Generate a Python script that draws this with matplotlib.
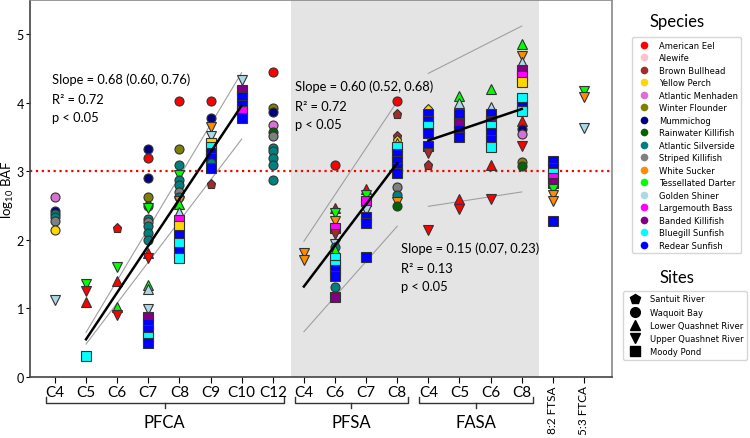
import matplotlib.pyplot as plt
from matplotlib.lines import Line2D

plt.rcParams['font.family'] = ['Lato', 'DejaVu Sans']
plt.rcParams['mathtext.fontset'] = 'custom'
plt.rcParams['mathtext.rm'] = 'Lato'
plt.rcParams['mathtext.it'] = 'Lato:italic'

# species code -> (legend name, colour)
species = {
    'EEL': ('American Eel', 'red'),
    'ALE': ('Alewife', 'pink'),
    'BB': ('Brown Bullhead', 'brown'),
    'YP': ('Yellow Perch', 'gold'),
    'AM': ('Atlantic Menhaden', 'orchid'),
    'WF': ('Winter Flounder', 'olive'),
    'MUM': ('Mummichog', 'navy'),
    'RK': ('Rainwater Killifish', 'darkgreen'),
    'AS': ('Atlantic Silverside', 'teal'),
    'SK': ('Striped Killifish', 'gray'),
    'WS': ('White Sucker', 'darkorange'),
    'TD': ('Tessellated Darter', 'lime'),
    'GS': ('Golden Shiner', 'lightblue'),
    'LB': ('Largemouth Bass', 'magenta'),
    'BK': ('Banded Killifish', 'purple'),
    'BG': ('Bluegill Sunfish', 'cyan'),
    'RS': ('Redear Sunfish', 'blue'),
}

# site code -> (legend name, marker)
sites = {
    'S': ('Santuit River', 'p'),
    'W': ('Waquoit Bay', 'o'),
    'L': ('Lower Quashnet River', '^'),
    'U': ('Upper Quashnet River', 'v'),
    'M': ('Moody Pond', 's'),
}

tick_labels = ['C4', 'C5', 'C6', 'C7', 'C8', 'C9', 'C10', 'C12',
               'C4', 'C6', 'C7', 'C8',
               'C4', 'C5', 'C6', 'C8',
               '8:2 FTSA', '5:3 FTCA']

# (species, site, log10 BAF) for each compound column
pfca_c4 = [('AM', 'W', 2.62), ('MUM', 'W', 2.42), ('AS', 'W', 2.38), ('AS', 'W', 2.33),
           ('SK', 'W', 2.27), ('YP', 'W', 2.15), ('GS', 'U', 1.13)]
pfca_c5 = [('TD', 'U', 1.35), ('EEL', 'U', 1.26), ('EEL', 'L', 1.10), ('BG', 'M', 0.31)]
pfca_c6 = [('EEL', 'S', 2.17), ('TD', 'U', 1.61), ('EEL', 'L', 1.40), ('TD', 'L', 1.02),
           ('EEL', 'U', 0.91)]
pfca_c7 = [('MUM', 'W', 3.32), ('EEL', 'W', 3.20), ('MUM', 'W', 2.91), ('WF', 'W', 2.62),
           ('AS', 'W', 2.50), ('TD', 'U', 2.47), ('AS', 'W', 2.30), ('SK', 'W', 2.26),
           ('AS', 'W', 2.20), ('AS', 'W', 2.10), ('AS', 'W', 2.00), ('EEL', 'L', 1.81),
           ('EEL', 'U', 1.74), ('TD', 'L', 1.34), ('GS', 'L', 1.28), ('GS', 'U', 0.99),
           ('BK', 'M', 0.87), ('RS', 'M', 0.77), ('RS', 'M', 0.68), ('BG', 'M', 0.59),
           ('RS', 'M', 0.50)]
pfca_c8 = [('EEL', 'W', 4.03), ('WF', 'W', 3.33), ('AS', 'W', 3.10), ('TD', 'U', 2.94),
           ('AS', 'W', 2.87), ('AS', 'W', 2.80), ('SK', 'W', 2.70), ('AS', 'W', 2.63),
           ('WS', 'U', 2.57), ('TD', 'L', 2.52), ('GS', 'L', 2.40), ('LB', 'M', 2.29),
           ('YP', 'M', 2.20), ('RS', 'M', 2.07), ('BG', 'M', 1.95), ('RS', 'M', 1.83),
           ('BG', 'M', 1.73)]
pfca_c9 = [('EEL', 'W', 4.02), ('MUM', 'W', 3.78), ('WS', 'U', 3.64), ('GS', 'U', 3.52),
           ('YP', 'M', 3.42), ('BG', 'M', 3.35), ('RS', 'M', 3.27), ('RS', 'M', 3.20),
           ('AS', 'W', 3.12), ('RS', 'M', 3.05), ('BB', 'S', 2.81)]
pfca_c10 = [('GS', 'U', 4.34), ('BK', 'M', 4.19), ('RS', 'M', 4.09), ('RS', 'M', 3.97),
            ('LB', 'M', 3.88), ('RS', 'M', 3.78)]
pfca_c12 = [('EEL', 'W', 4.45), ('WF', 'W', 3.93), ('MUM', 'W', 3.86), ('AM', 'W', 3.68),
            ('RK', 'W', 3.58), ('SK', 'W', 3.51), ('AS', 'W', 3.34), ('AS', 'W', 3.29),
            ('AS', 'W', 3.20), ('AS', 'W', 3.10), ('AS', 'W', 2.88)]
pfsa_c4 = [('WS', 'U', 1.81), ('WS', 'U', 1.70)]
pfsa_c6 = [('EEL', 'W', 3.10), ('EEL', 'L', 2.47), ('TD', 'U', 2.39), ('WS', 'U', 2.28),
           ('LB', 'M', 2.18), ('BB', 'U', 2.08), ('GS', 'U', 1.94), ('AS', 'W', 1.90),
           ('TD', 'L', 1.86), ('BG', 'M', 1.74), ('BG', 'M', 1.64), ('RS', 'M', 1.56),
           ('RS', 'M', 1.47), ('AS', 'W', 1.31), ('BK', 'M', 1.16)]
pfsa_c7 = [('EEL', 'L', 2.75), ('TD', 'U', 2.66), ('LB', 'M', 2.57), ('GS', 'U', 2.44),
           ('RS', 'M', 2.34), ('RS', 'M', 2.25), ('RS', 'M', 1.75)]
pfsa_c8 = [('EEL', 'W', 4.03), ('BB', 'S', 3.84), ('BB', 'S', 3.52), ('YP', 'S', 3.46),
           ('GS', 'L', 3.42), ('BG', 'M', 3.35), ('RS', 'M', 3.26), ('RS', 'M', 3.15),
           ('RS', 'M', 3.05), ('RS', 'M', 2.97), ('SK', 'W', 2.77), ('AS', 'W', 2.66),
           ('WS', 'U', 2.55), ('RK', 'W', 2.49)]
fasa_c4 = [('YP', 'S', 3.91), ('RS', 'M', 3.83), ('RS', 'M', 3.73), ('BG', 'M', 3.66),
           ('RS', 'M', 3.56), ('RS', 'M', 3.37), ('BB', 'U', 3.27), ('BB', 'S', 3.09),
           ('EEL', 'U', 2.15)]
fasa_c5 = [('TD', 'L', 4.10), ('GS', 'L', 4.00), ('RS', 'M', 3.83), ('BK', 'M', 3.71),
           ('RS', 'M', 3.61), ('RS', 'M', 3.50), ('EEL', 'L', 2.59), ('EEL', 'U', 2.45)]
fasa_c6 = [('TD', 'L', 4.20), ('GS', 'L', 3.94), ('RS', 'M', 3.83), ('BK', 'M', 3.74),
           ('BG', 'M', 3.66), ('RS', 'M', 3.56), ('RS', 'M', 3.46), ('BG', 'M', 3.36),
           ('EEL', 'L', 3.09), ('EEL', 'U', 2.59)]
fasa_c8 = [('TD', 'L', 4.86), ('WS', 'U', 4.68), ('GS', 'L', 4.59), ('BK', 'M', 4.48),
           ('LB', 'M', 4.39), ('YP', 'M', 4.31), ('BG', 'M', 4.07), ('RS', 'M', 3.94),
           ('BG', 'M', 3.88), ('EEL', 'L', 3.73), ('MUM', 'W', 3.62), ('AM', 'W', 3.54),
           ('EEL', 'U', 3.37), ('WF', 'W', 3.13), ('RK', 'W', 3.08)]
ftsa_82 = [('RS', 'M', 3.15), ('RS', 'M', 3.05), ('BG', 'M', 2.98), ('LB', 'M', 2.90),
           ('BK', 'M', 2.83), ('TD', 'U', 2.74), ('WS', 'U', 2.65), ('WS', 'U', 2.57),
           ('RS', 'M', 2.28)]
ftca_53 = [('TD', 'U', 4.17), ('WS', 'U', 4.09), ('GS', 'U', 3.63)]

columns = [pfca_c4, pfca_c5, pfca_c6, pfca_c7, pfca_c8, pfca_c9, pfca_c10, pfca_c12,
           pfsa_c4, pfsa_c6, pfsa_c7, pfsa_c8,
           fasa_c4, fasa_c5, fasa_c6, fasa_c8,
           ftsa_82, ftca_53]

# regression lines: (x start col, x end col, fit start, fit end, upper start, upper end, lower start, lower end)
fits = [
    (1, 6, 0.55, 3.96, 0.65, 4.44, 0.48, 3.47),
    (8, 11, 1.32, 3.12, 1.98, 4.02, 0.66, 2.20),
    (12, 15, 3.45, 3.91, 4.43, 5.12, 2.49, 2.70),
]
fit_text = [
    ('Slope = 0.68 (0.60, 0.76)', '0.72', -0.10, 4.35),
    ('Slope = 0.60 (0.52, 0.68)', '0.72', 7.72, 4.25),
    ('Slope = 0.15 (0.07, 0.23)', '0.13', 11.13, 1.89),
]
groups = [('PFCA', 0, 7), ('PFSA', 8, 11), ('FASA', 12, 15)]

fig = plt.figure(figsize=(7.5, 4.39), dpi=100)
ax = fig.add_axes([30 / 750, 61 / 439, 582 / 750, 377 / 439])

ax.axvspan(7.6, 15.55, color='#e4e4e4', zorder=0, lw=0)
ax.axhline(3, color='red', ls=':', lw=1.6, zorder=1)

for x, col in enumerate(columns):
    for sp, site, val in col:
        ax.plot(x, val, marker=sites[site][1], color=species[sp][1], ms=6.5,
                mec='#333333', mew=0.8, ls='', zorder=3)

for x0, x1, f0, f1, u0, u1, l0, l1 in fits:
    ax.plot([x0, x1], [f0, f1], color='black', lw=1.8, zorder=4)
    ax.plot([x0, x1], [u0, u1], color='#a0a0a0', lw=0.8, zorder=2)
    ax.plot([x0, x1], [l0, l1], color='#a0a0a0', lw=0.8, zorder=2)

for slope, r2, tx, ty in fit_text:
    ax.text(tx, ty, slope, fontsize=9.3, va='center', zorder=5)
    ax.text(tx, ty - 0.30, 'R² = ' + r2, fontsize=9.3, va='center', zorder=5)
    ax.text(tx, ty - 0.56, 'p < 0.05', fontsize=9.3, va='center', zorder=5)

ax.set_xlim(-0.8, 17.9)
ax.set_ylim(0, 5.5)
ax.set_yticks(range(6))
ax.tick_params(axis='y', labelsize=9, length=3, pad=1.5)
ax.set_xticks(range(len(tick_labels)))
ax.set_xticklabels(tick_labels)
ax.tick_params(axis='x', labelsize=11, length=4, pad=2)
for lbl in ax.get_xticklabels()[-2:]:
    lbl.set_rotation(90)
    lbl.set_fontsize(8.5)
ax.set_ylabel('log$_{10}$ BAF', fontsize=9.5)
ax.yaxis.set_label_coords(-0.0237, 0.5)
for side in ['left', 'bottom']:
    ax.spines[side].set_color('#444444')
for side in ['top', 'right']:
    ax.spines[side].set_color('#888888')
for s in ax.spines.values():
    s.set_linewidth(1.2)

# group brackets under the tick labels
trans = ax.get_xaxis_transform()
for name, first, last in groups:
    a, b = first - 0.3, last + 0.35
    mid = (a + b) / 2
    ax.plot([a, a, b, b], [-0.053, -0.069, -0.069, -0.053], color='#333333', lw=1,
            transform=trans, clip_on=False)
    ax.plot([mid, mid], [-0.069, -0.083], color='#333333', lw=1,
            transform=trans, clip_on=False)
    ax.text(mid, -0.119, name, transform=trans, ha='center', va='center', fontsize=12)

# legends
sp_handles = [Line2D([], [], marker='o', ls='', color=c, ms=4.5) for n, c in species.values()]
sp_labels = [n for n, c in species.values()]
fig.text(677 / 750, 1 - 22 / 439, 'Species', ha='center', va='center', fontsize=12)
fig.legend(sp_handles, sp_labels, loc='upper left', bbox_to_anchor=(628 / 750, 1 - 34 / 439),
           prop={'family': 'DejaVu Sans', 'size': 6}, labelspacing=0.42,
           handletextpad=0.8, borderpad=0.4)

st_handles = [Line2D([], [], marker=m, ls='', color='black', ms=7) for n, m in sites.values()]
st_labels = [n for n, m in sites.values()]
fig.text(677 / 750, 1 - 278 / 439, 'Sites', ha='center', va='center', fontsize=12)
fig.legend(st_handles, st_labels, loc='upper left', bbox_to_anchor=(619 / 750, 1 - 288 / 439),
           prop={'family': 'DejaVu Sans', 'size': 6}, labelspacing=0.5,
           handletextpad=0.8, borderpad=0.4)

fig.savefig('out.png', dpi=100)
